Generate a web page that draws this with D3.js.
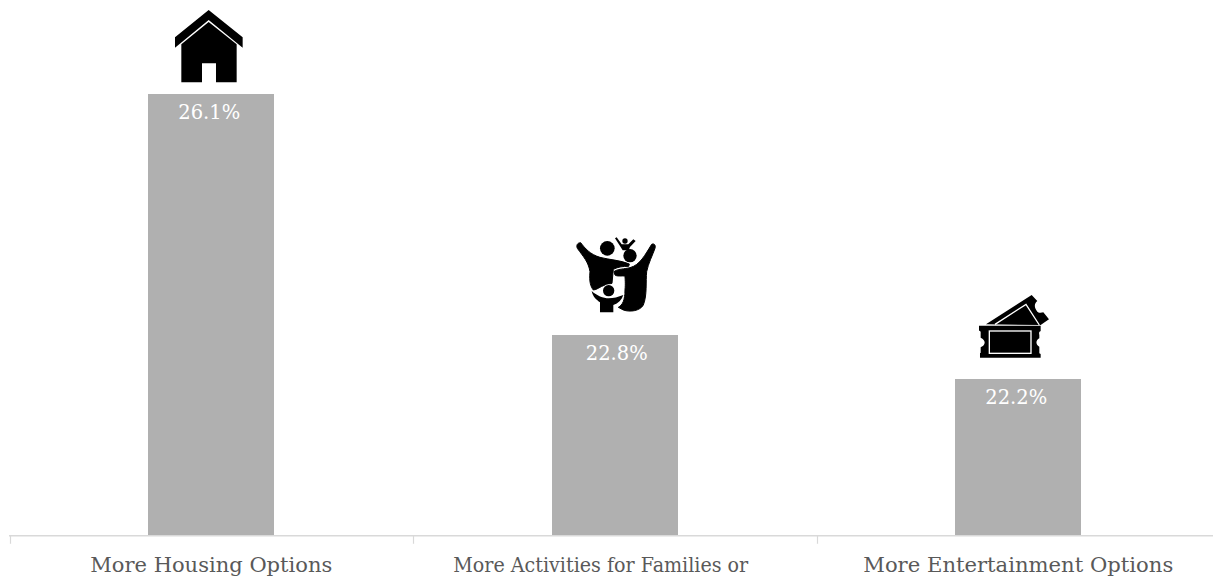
<!DOCTYPE html>
<html><head><meta charset="utf-8">
<script src="https://cdn.jsdelivr.net/npm/d3@7/dist/d3.min.js"></script>
<style>html,body{margin:0;padding:0;background:#fff;overflow:hidden}</style>
</head><body><div id="chart"></div>
<script>
const categories = ["More Housing Options", "More Activities for Families or", "More Entertainment Options"];
const values = [26.1, 22.8, 22.2];
const valueLabels = ["26.1%", "22.8%", "22.2%"];
const icons = ["house", "family", "tickets"];
const axisFloor = 20.06;

const W = 1213, H = 582;
const svg = d3.select("#chart").append("svg").attr("width", W).attr("height", H).style("display","block");
const x = d3.scaleBand().domain(categories).range([9.5, 1220]);
const y = d3.scaleLinear().domain([axisFloor, 26.1]).range([535, 94]);
const barW = 126;
const font = "'DejaVu Serif', serif";
const labelNudge = [-2, 2, -2];
const catNudge = [0, -14, 0];
const catWidths = [242, 295, 310];
const centre = c => x(c) + x.bandwidth()/2;

svg.selectAll("rect.bar").data(values).join("rect").attr("class","bar")
  .attr("x",(d,i)=>Math.round(centre(categories[i])-barW/2))
  .attr("y",d=>Math.round(y(d))).attr("width",barW).attr("height",d=>y(axisFloor)-Math.round(y(d))).attr("fill","#b0b0b0");

const axis = svg.append("g").attr("transform",`translate(0,${y(axisFloor)+0.75})`);
axis.append("line").attr("x1",x.range()[0]-0.5).attr("x2",W).attr("stroke","#d9d9d9").attr("stroke-width",1.5);
axis.selectAll("line.t").data(categories.map(c=>x(c))).join("line").attr("class","t")
  .attr("x1",d=>Math.round(d)+0.5).attr("x2",d=>Math.round(d)+0.5).attr("y1",0).attr("y2",8).attr("stroke","#d9d9d9").attr("stroke-width",1.2);

svg.selectAll("text.cat").data(categories).join("text").attr("class","cat")
  .attr("x",(c,i)=>centre(c)+catNudge[i]).attr("y",572).attr("text-anchor","middle")
  .attr("font-family",font).attr("font-size",20).attr("fill","#595959")
  .attr("textLength",(c,i)=>catWidths[i]).attr("lengthAdjust","spacingAndGlyphs").text(c=>c);

svg.selectAll("text.val").data(values).join("text").attr("class","val")
  .attr("x",(d,i)=>centre(categories[i])+labelNudge[i]).attr("y",d=>Math.round(y(d))+25).attr("text-anchor","middle")
  .attr("font-family",font).attr("font-size",19.5).attr("fill","#fff").text((d,i)=>valueLabels[i]);

// Pictograms, drawn from shapes traced in a 3x grid and attached to each bar's top.
const drawIcon = {
  house(g){
    g.attr("transform", g.attr("transform")+" translate(-45,-89) scale(0.3333)");
    g.append("path").attr("d","M128,15 L230,97 L230,128 L128,45 L27,128 L27,97 Z");
    g.append("path").attr("d","M128,51 L212,118 L212,232 L150,232 L150,175 L108,175 L108,232 L46,232 L46,118 Z");
  },
  family(g){
    g.attr("transform", g.attr("transform")+" translate(-65,-110) scale(0.3333)");
    const adults = g.append("g").attr("stroke","#000").attr("stroke-width",3);
    adults.append("path").attr("d","M92,53 C105,70 120,88 150,97 C180,105 210,105 238,117 L236,124 C220,124 205,125 190,133 L186,175 L165,180 C150,185 140,195 130,195 C122,185 117,170 120,140 C115,110 100,95 82,70 C78,62 82,53 92,53 Z");
    adults.append("path").attr("d","M305,58 C312,54 318,60 315,70 C308,90 295,115 290,140 C287,170 292,210 280,240 C270,258 240,262 220,255 L205,247 C218,240 225,225 225,195 C227,175 225,160 225,153 C215,152 200,155 195,150 L192,140 C200,132 225,132 240,128 C270,120 285,90 305,58 Z");
    g.append("circle").attr("cx",172).attr("cy",70).attr("r",22);
    g.append("circle").attr("cx",240).attr("cy",92).attr("r",20);
    g.append("circle").attr("cx",225).attr("cy",48).attr("r",8);
    g.append("path").attr("d","M195,40 L200,37 L215,58 L235,58 L250,43 L257,48 L240,66 L236,76 L218,76 L212,66 Z");
    const kid = g.append("g").attr("stroke","#fff").attr("stroke-width",4).attr("paint-order","stroke");
    kid.append("path").attr("d","M125,198 C140,212 160,220 176,220 C190,220 205,216 220,210 C215,225 205,235 190,240 L190,262 L150,262 L150,232 C140,225 128,215 125,198 Z");
    kid.append("circle").attr("cx",176).attr("cy",197).attr("r",17);
  },
  tickets(g){
    g.attr("transform", g.attr("transform")+" translate(-68,-94) scale(0.3333)");
    g.append("path").attr("d","M108,118 L245,30 L262,48 C252,56 252,68 262,80 C270,86 276,82 280,82 L297,103 L272,120 Z");
    g.append("path").attr("fill","none").attr("stroke","#fff").attr("stroke-width",4).attr("d","M135,118 L228,58 L268,120");
    g.append("path").attr("d","M87,122 L272,122 L272,138 C268,140 266,142 268,150 L268,160 C258,165 255,178 268,185 L268,205 L272,207 L272,218 L90,218 L90,205 L92,203 L92,187 C108,180 108,165 92,158 L92,140 C90,138 88,138 87,136 Z");
    g.append("rect").attr("x",118).attr("y",138).attr("width",125).attr("height",67).attr("fill","none").attr("stroke","#fff").attr("stroke-width",4);
  }
};
icons.forEach((name,i)=>{
  const g = svg.append("g").attr("fill","#000").attr("transform",`translate(${Math.round(centre(categories[i]))},${Math.round(y(values[i]))})`);
  drawIcon[name](g);
});
</script></body></html>
